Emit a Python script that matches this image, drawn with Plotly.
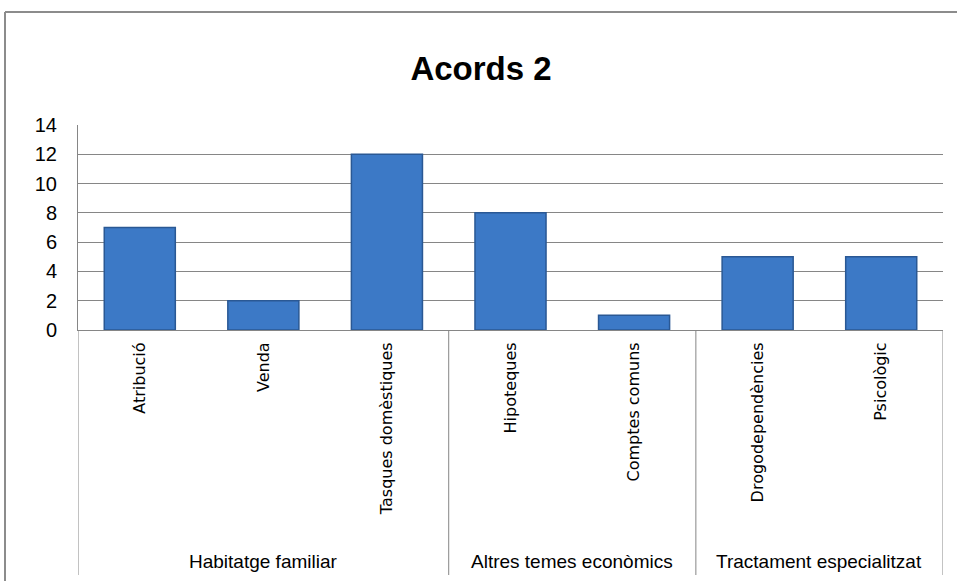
import plotly.graph_objects as go

# data
categories = ["Atribució", "Venda", "Tasques domèstiques", "Hipoteques",
              "Comptes comuns", "Drogodependències", "Psicològic"]
values = [7, 2, 12, 8, 1, 5, 5]
groups = ["Habitatge familiar", "Altres temes econòmics", "Tractament especialitzat"]
group_sizes = [3, 2, 2]
y_ticks = [0, 2, 4, 6, 8, 10, 12, 14]

W, H = 957, 581
L, R, T, B = 78, 14, 125, 251
pw, ph = W - L - R, H - T - B

def px_x(px):
    return (px - L) / pw

def px_y(py):
    return (H - B - py) / ph

FONT = "Liberation Sans, Arial, sans-serif"
GRID = "#868686"

fig = go.Figure()
fig.add_trace(go.Bar(
    x=categories, y=values, width=0.575,
    marker=dict(color="#3c79c6", line=dict(color="#2a5894", width=1.5)),
    hoverinfo="x+y",
))

shapes = []
# outer chart frame (left + top edges visible)
shapes.append(dict(type="line", xref="paper", yref="paper",
                   x0=px_x(5), x1=px_x(960), y0=px_y(12), y1=px_y(12),
                   line=dict(color="#8c8c8c", width=2)))
shapes.append(dict(type="line", xref="paper", yref="paper",
                   x0=px_x(5), x1=px_x(5), y0=px_y(12), y1=px_y(585),
                   line=dict(color="#8c8c8c", width=2)))

# group dividers below axis
bottom = px_y(575)
pos = -0.5
shapes.append(dict(type="line", xref="x", yref="paper", x0=pos, x1=pos,
                   y0=0, y1=bottom, line=dict(color=GRID, width=1)))
annotations = []
for g, n in zip(groups, group_sizes):
    annotations.append(dict(text=g, xref="x", yref="paper", x=pos + n / 2,
                            y=px_y(561), showarrow=False, yanchor="middle",
                            font=dict(family=FONT, size=19, color="#000")))
    pos += n
    shapes.append(dict(type="line", xref="x", yref="paper", x0=pos, x1=pos,
                       y0=0, y1=bottom, line=dict(color=GRID, width=1)))

fig.update_layout(
    width=W, height=H,
    margin=dict(l=L, r=R, t=T, b=B),
    paper_bgcolor="white", plot_bgcolor="white",
    title=dict(text="<b>Acords 2</b>", x=481 / W, xanchor="center",
               y=1 - 68 / H, yanchor="middle",
               font=dict(family=FONT, size=33, color="#000")),
    showlegend=False,
    shapes=shapes,
    annotations=annotations,
)
fig.update_xaxes(
    type="category", tickangle=-90, showgrid=False,
    showline=True, linecolor=GRID, linewidth=1,
    tickfont=dict(family="DejaVu Sans, sans-serif", size=16, color="#000"),
    ticks="", ticklabelstandoff=5, range=[-0.5, len(categories) - 0.5],
)
fig.update_yaxes(
    range=[0, 14], tickvals=y_ticks, showgrid=True, gridcolor=GRID, gridwidth=1,
    showline=True, linecolor=GRID, linewidth=1, zeroline=False,
    ticks="", ticklabelstandoff=16,
    tickfont=dict(family=FONT, size=20, color="#000"),
)

# drop the browser's default 8px body margin so the figure sits at 0,0
fig.write_html("out.html", config={"displayModeBar": False},
               post_script="document.body.style.margin='0';")
